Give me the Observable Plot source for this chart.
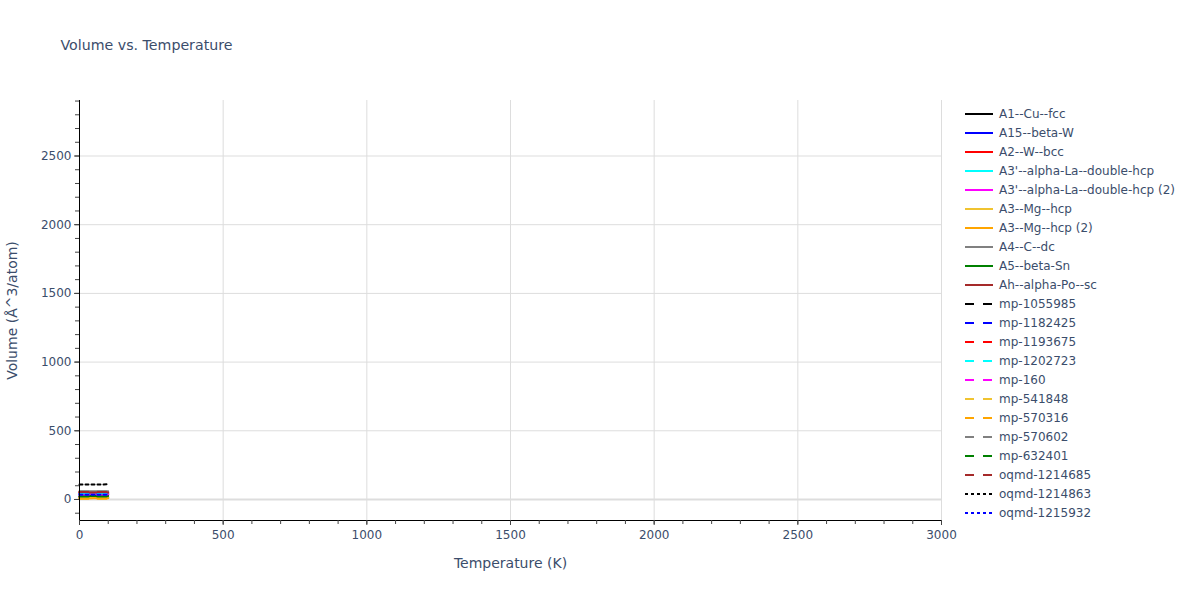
<!DOCTYPE html>
<html>
<head>
<meta charset="utf-8">
<script src="https://cdn.jsdelivr.net/npm/d3@7"></script>
<script src="https://cdn.jsdelivr.net/npm/@observablehq/plot@0.6"></script>
<style>
  body { margin: 0; background: #fff; font-family: "DejaVu Sans", sans-serif; }
  #wrap { position: relative; width: 1200px; height: 600px; }
  #legend { position: absolute; left: 0; top: 0; }
</style>
</head>
<body>
<div id="wrap"></div>
<script>
// ---- data ----
const seriesNames = [
  "A1--Cu--fcc", "A15--beta-W", "A2--W--bcc", "A3'--alpha-La--double-hcp",
  "A3'--alpha-La--double-hcp (2)", "A3--Mg--hcp", "A3--Mg--hcp (2)", "A4--C--dc",
  "A5--beta-Sn", "Ah--alpha-Po--sc", "mp-1055985", "mp-1182425", "mp-1193675",
  "mp-1202723", "mp-160", "mp-541848", "mp-570316", "mp-570602", "mp-632401",
  "oqmd-1214685", "oqmd-1214863", "oqmd-1215932"
];
const seriesColors = [
  "#000000", "#0000ff", "#ff0000", "#00ffff", "#ff00ff", "#f0c330", "#ffa500", "#808080", "#008000", "#a52a2a",
  "#000000", "#0000ff", "#ff0000", "#00ffff", "#ff00ff", "#f0c330", "#ffa500", "#808080", "#008000", "#a52a2a",
  "#000000", "#0000ff"
];
const seriesDash = [
  "solid", "solid", "solid", "solid", "solid", "solid", "solid", "solid", "solid", "solid",
  "dash", "dash", "dash", "dash", "dash", "dash", "dash", "dash", "dash", "dash",
  "dot", "dot"
];
const temperatures = [0, 25, 50, 75, 100];
const seriesValues = [
  [11.8, 11.9, 12.0, 12.1, 12.2],
  [39.6, 39.7, 39.8, 39.9, 40.0],
  [47.5, 47.6, 47.7, 47.8, 47.9],
  [37.2, 37.3, 37.4, 37.5, 37.6],
  [36.4, 36.5, 36.6, 36.7, 36.8],
  [10.1, 10.2, 10.3, 10.4, 10.5],
  [7.9, 8.0, 8.1, 8.2, 8.3],
  [59.5, 59.6, 59.8, 60.0, 60.2],
  [25.0, 25.1, 25.2, 25.3, 25.4],
  [50.1, 50.2, 50.3, 50.4, 50.5],
  [20.2, 20.3, 20.4, 20.5, 20.6],
  [42.0, 42.1, 42.2, 42.3, 42.4],
  [52.0, 52.1, 52.2, 52.3, 52.4],
  [38.0, 38.1, 38.2, 38.3, 38.4],
  [30.1, 30.2, 30.3, 30.4, 30.5],
  [15.0, 15.1, 15.2, 15.3, 15.4],
  [5.0, 5.1, 5.2, 5.3, 5.4],
  [57.8, 57.9, 58.0, 58.1, 58.2],
  [22.0, 22.1, 22.2, 22.3, 22.4],
  [54.0, 54.1, 54.2, 54.3, 54.4],
  [109.5, 109.6, 109.7, 109.8, 110.0],
  [34.8, 34.9, 35.0, 35.1, 35.2]
];
const xMajorTicks = [0, 500, 1000, 1500, 2000, 2500, 3000];
const yMajorTicks = [0, 500, 1000, 1500, 2000, 2500];
const xMinorTicks = d3.range(0, 3001, 100);
const yMinorTicks = d3.range(-100, 2901, 100);
const xDomain = [0, 3000];
const yDomain = [-153, 2904];

const titleText = "Volume vs. Temperature";
const xLabel = "Temperature (K)";
const yLabel = "Volume (Å^3/atom)";

// ---- build ----
const dashMap = {solid: null, dash: "9,9", dot: "3,3"};
const textColor = "#3b4d6b";
const gridColor = "#dddddd";
const font = "'DejaVu Sans', sans-serif";

const lineMarks = seriesNames.map((name, i) =>
  Plot.line(temperatures.map((t, j) => ({T: t, V: seriesValues[i][j]})), {
    x: "T", y: "V", stroke: seriesColors[i], strokeWidth: 2,
    strokeDasharray: dashMap[seriesDash[i]]
  })
);

const chart = Plot.plot({
  width: 1200, height: 600,
  marginLeft: 79, marginRight: 259, marginTop: 100, marginBottom: 80,
  style: {fontFamily: font, background: "transparent"},
  x: {domain: xDomain, axis: null},
  y: {domain: yDomain, axis: null},
  marks: [
    Plot.ruleX(xMajorTicks.filter(d => d > 0), {stroke: gridColor, strokeWidth: 1}),
    Plot.ruleY(yMajorTicks.filter(d => d > 0), {stroke: gridColor, strokeWidth: 1}),
    Plot.ruleY([0], {stroke: gridColor, strokeWidth: 2}),
    ...lineMarks,
    // axis lines
    Plot.ruleX([xDomain[0]], {stroke: "#000", strokeWidth: 1}),
    Plot.ruleY([yDomain[0]], {stroke: "#000", strokeWidth: 1}),
    // minor ticks
    Plot.axisX(xMinorTicks, {anchor: "bottom", tickSize: 4, tickFormat: () => "", stroke: "#444", label: null}),
    Plot.axisY(yMinorTicks, {anchor: "left", tickSize: 4, tickFormat: () => "", stroke: "#444", label: null}),
    // major ticks
    Plot.axisX(xMajorTicks, {anchor: "bottom", tickSize: 5, tickFormat: () => "", stroke: "#444", label: null}),
    Plot.axisY(yMajorTicks, {anchor: "left", tickSize: 5, tickFormat: () => "", stroke: "#444", label: null}),
    // tick labels
    Plot.axisX(xMajorTicks, {anchor: "bottom", tickSize: 0, tickPadding: 10, fontSize: 12, fill: textColor, label: null, tickFormat: d => String(d)}),
    Plot.axisY(yMajorTicks, {anchor: "left", tickSize: 0, tickPadding: 8, fontSize: 12, fill: textColor, label: null, tickFormat: d => String(d)}),
    // titles
    Plot.text([xLabel], {frameAnchor: "bottom", dy: 43, lineAnchor: "middle", textAnchor: "middle", fontSize: 14, fill: textColor}),
    Plot.text([yLabel], {frameAnchor: "left", dx: -67, rotate: -90, textAnchor: "middle", lineAnchor: "middle", fontSize: 14, fill: textColor}),
    Plot.text([titleText], {frameAnchor: "top-left", dx: -19, dy: -55, textAnchor: "start", lineAnchor: "middle", fontSize: 14.2, fill: textColor})
  ]
});
document.getElementById("wrap").appendChild(chart);

// ---- legend ----
const leg = d3.select("#wrap").append("svg")
  .attr("id", "legend").attr("width", 1200).attr("height", 600)
  .style("pointer-events", "none");
const items = leg.selectAll("g").data(seriesNames).join("g")
  .attr("transform", (d, i) => `translate(965,${114 + 19 * i})`);
items.append("line")
  .attr("x1", 0).attr("x2", 28).attr("y1", 0).attr("y2", 0)
  .attr("stroke", (d, i) => seriesColors[i]).attr("stroke-width", 2)
  .attr("stroke-dasharray", (d, i) => dashMap[seriesDash[i]]);
items.append("text")
  .attr("x", 34).attr("y", 0).attr("dy", "0.35em")
  .attr("font-size", 12).attr("fill", textColor)
  .attr("font-family", font)
  .text(d => d);
</script>
</body>
</html>
